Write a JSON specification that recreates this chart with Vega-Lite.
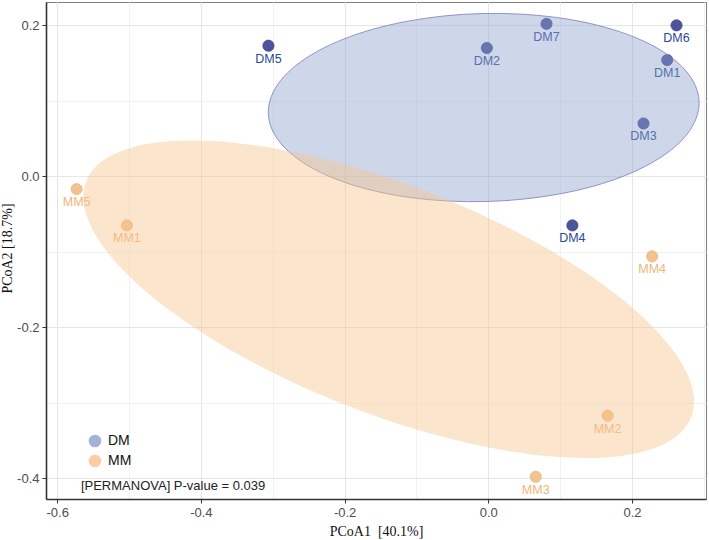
{
  "$schema": "https://vega.github.io/schema/vega-lite/v6.json",
  "width": 660,
  "height": 497,
  "autosize": "none",
  "padding": {"left": 46, "top": 2, "right": 3, "bottom": 41},
  "background": "white",
  "config": {
    "view": {"stroke": "#7f7f7f", "strokeWidth": 1},
    "font": "Liberation Sans"
  },
  "datasets": {
    "pts": [
      {"name": "DM1", "group": "DM", "x": 0.249, "y": 0.154},
      {"name": "DM2", "group": "DM", "x": -0.002, "y": 0.170},
      {"name": "DM3", "group": "DM", "x": 0.216, "y": 0.070},
      {"name": "DM4", "group": "DM", "x": 0.117, "y": -0.065},
      {"name": "DM5", "group": "DM", "x": -0.306, "y": 0.173},
      {"name": "DM6", "group": "DM", "x": 0.262, "y": 0.200},
      {"name": "DM7", "group": "DM", "x": 0.081, "y": 0.202},
      {"name": "MM1", "group": "MM", "x": -0.503, "y": -0.065},
      {"name": "MM2", "group": "MM", "x": 0.166, "y": -0.317},
      {"name": "MM3", "group": "MM", "x": 0.066, "y": -0.398},
      {"name": "MM4", "group": "MM", "x": 0.228, "y": -0.106},
      {"name": "MM5", "group": "MM", "x": -0.573, "y": -0.017}
    ],
    "ell": [
      {"group": "DM", "i": 1, "x": 0.2934, "y": 0.0986},
      {"group": "DM", "i": 2, "x": 0.2882, "y": 0.1201},
      {"group": "DM", "i": 3, "x": 0.2741, "y": 0.1407},
      {"group": "DM", "i": 4, "x": 0.2515, "y": 0.1598},
      {"group": "DM", "i": 5, "x": 0.2210, "y": 0.1769},
      {"group": "DM", "i": 6, "x": 0.1837, "y": 0.1913},
      {"group": "DM", "i": 7, "x": 0.1405, "y": 0.2027},
      {"group": "DM", "i": 8, "x": 0.0929, "y": 0.2107},
      {"group": "DM", "i": 9, "x": 0.0423, "y": 0.2150},
      {"group": "DM", "i": 10, "x": -0.0098, "y": 0.2156},
      {"group": "DM", "i": 11, "x": -0.0618, "y": 0.2124},
      {"group": "DM", "i": 12, "x": -0.1121, "y": 0.2055},
      {"group": "DM", "i": 13, "x": -0.1593, "y": 0.1952},
      {"group": "DM", "i": 14, "x": -0.2017, "y": 0.1817},
      {"group": "DM", "i": 15, "x": -0.2382, "y": 0.1654},
      {"group": "DM", "i": 16, "x": -0.2677, "y": 0.1469},
      {"group": "DM", "i": 17, "x": -0.2893, "y": 0.1267},
      {"group": "DM", "i": 18, "x": -0.3022, "y": 0.1053},
      {"group": "DM", "i": 19, "x": -0.3062, "y": 0.0836},
      {"group": "DM", "i": 20, "x": -0.3010, "y": 0.0621},
      {"group": "DM", "i": 21, "x": -0.2869, "y": 0.0415},
      {"group": "DM", "i": 22, "x": -0.2643, "y": 0.0224},
      {"group": "DM", "i": 23, "x": -0.2338, "y": 0.0053},
      {"group": "DM", "i": 24, "x": -0.1965, "y": -0.0091},
      {"group": "DM", "i": 25, "x": -0.1533, "y": -0.0205},
      {"group": "DM", "i": 26, "x": -0.1057, "y": -0.0285},
      {"group": "DM", "i": 27, "x": -0.0551, "y": -0.0328},
      {"group": "DM", "i": 28, "x": -0.0030, "y": -0.0334},
      {"group": "DM", "i": 29, "x": 0.0490, "y": -0.0302},
      {"group": "DM", "i": 30, "x": 0.0993, "y": -0.0233},
      {"group": "DM", "i": 31, "x": 0.1465, "y": -0.0130},
      {"group": "DM", "i": 32, "x": 0.1889, "y": 0.0005},
      {"group": "DM", "i": 33, "x": 0.2254, "y": 0.0168},
      {"group": "DM", "i": 34, "x": 0.2549, "y": 0.0353},
      {"group": "DM", "i": 35, "x": 0.2765, "y": 0.0556},
      {"group": "DM", "i": 36, "x": 0.2894, "y": 0.0769},
      {"group": "MM", "i": 1, "x": 0.2864, "y": -0.2984},
      {"group": "MM", "i": 2, "x": 0.2799, "y": -0.2684},
      {"group": "MM", "i": 3, "x": 0.2608, "y": -0.2352},
      {"group": "MM", "i": 4, "x": 0.2294, "y": -0.1998},
      {"group": "MM", "i": 5, "x": 0.1869, "y": -0.1633},
      {"group": "MM", "i": 6, "x": 0.1346, "y": -0.1268},
      {"group": "MM", "i": 7, "x": 0.0739, "y": -0.0913},
      {"group": "MM", "i": 8, "x": 0.0067, "y": -0.0581},
      {"group": "MM", "i": 9, "x": -0.0648, "y": -0.0280},
      {"group": "MM", "i": 10, "x": -0.1386, "y": -0.0020},
      {"group": "MM", "i": 11, "x": -0.2124, "y": 0.0191},
      {"group": "MM", "i": 12, "x": -0.2840, "y": 0.0347},
      {"group": "MM", "i": 13, "x": -0.3511, "y": 0.0443},
      {"group": "MM", "i": 14, "x": -0.4118, "y": 0.0475},
      {"group": "MM", "i": 15, "x": -0.4642, "y": 0.0444},
      {"group": "MM", "i": 16, "x": -0.5067, "y": 0.0350},
      {"group": "MM", "i": 17, "x": -0.5380, "y": 0.0196},
      {"group": "MM", "i": 18, "x": -0.5572, "y": -0.0014},
      {"group": "MM", "i": 19, "x": -0.5636, "y": -0.0272},
      {"group": "MM", "i": 20, "x": -0.5572, "y": -0.0572},
      {"group": "MM", "i": 21, "x": -0.5380, "y": -0.0904},
      {"group": "MM", "i": 22, "x": -0.5067, "y": -0.1258},
      {"group": "MM", "i": 23, "x": -0.4642, "y": -0.1623},
      {"group": "MM", "i": 24, "x": -0.4118, "y": -0.1988},
      {"group": "MM", "i": 25, "x": -0.3511, "y": -0.2342},
      {"group": "MM", "i": 26, "x": -0.2840, "y": -0.2675},
      {"group": "MM", "i": 27, "x": -0.2124, "y": -0.2976},
      {"group": "MM", "i": 28, "x": -0.1386, "y": -0.3236},
      {"group": "MM", "i": 29, "x": -0.0648, "y": -0.3447},
      {"group": "MM", "i": 30, "x": 0.0067, "y": -0.3602},
      {"group": "MM", "i": 31, "x": 0.0739, "y": -0.3698},
      {"group": "MM", "i": 32, "x": 0.1346, "y": -0.3731},
      {"group": "MM", "i": 33, "x": 0.1869, "y": -0.3700},
      {"group": "MM", "i": 34, "x": 0.2294, "y": -0.3606},
      {"group": "MM", "i": 35, "x": 0.2608, "y": -0.3452},
      {"group": "MM", "i": 36, "x": 0.2799, "y": -0.3242}
    ],
    "note": [
      {"label": "[PERMANOVA] P-value = 0.039", "x": -0.567, "y": -0.41}
    ]
  },
  "encoding": {
    "x": {
      "field": "x", "type": "quantitative",
      "scale": {"domain": [-0.6156, 0.303], "nice": false, "zero": false},
      "axis": {
        "title": "PCoA1\u00a0\u00a0[40.1%]",
        "titleFont": "Liberation Serif", "titleFontSize": 14, "titleFontWeight": "normal", "titleColor": "#111111", "titlePadding": 5,
        "values": [-0.6, -0.5, -0.4, -0.3, -0.2, -0.1, 0, 0.1, 0.2, 0.3],
        "labelExpr": "abs(round(datum.value*10)) % 2 == 1 ? '' : (datum.value < -0.001 ? '-' : '') + format(abs(datum.value), '.1f')",
        "labelFontSize": 13, "labelColor": "#4d4d4d", "labelPadding": 3,
        "domainColor": "#333333", "domainWidth": 1.6,
        "tickColor": "#333333", "tickSize": 4,
        "tickOpacity": {"condition": {"test": "abs(round(datum.value*10)) % 2 == 1", "value": 0}, "value": 1},
        "grid": true,
        "gridColor": {"condition": {"test": "abs(round(datum.value*10)) % 2 == 1", "value": "#f2f2f2"}, "value": "#e6e6e6"},
        "gridWidth": 1
      }
    },
    "y": {
      "field": "y", "type": "quantitative",
      "scale": {"domain": [-0.4274, 0.2309], "nice": false, "zero": false},
      "axis": {
        "title": "PCoA2 [18.7%]",
        "titleFont": "Liberation Serif", "titleFontSize": 14, "titleFontWeight": "normal", "titleColor": "#111111",
        "titleX": -32, "titleY": 246,
        "values": [-0.4, -0.3, -0.2, -0.1, 0, 0.1, 0.2],
        "labelExpr": "abs(round(datum.value*10)) % 2 == 1 ? '' : (datum.value < -0.001 ? '-' : '') + format(abs(datum.value), '.1f')",
        "labelFontSize": 13, "labelColor": "#4d4d4d", "labelPadding": 3,
        "domainColor": "#333333", "domainWidth": 1.6,
        "tickColor": "#333333", "tickSize": 4,
        "tickOpacity": {"condition": {"test": "abs(round(datum.value*10)) % 2 == 1", "value": 0}, "value": 1},
        "grid": true,
        "gridColor": {"condition": {"test": "abs(round(datum.value*10)) % 2 == 1", "value": "#f2f2f2"}, "value": "#e6e6e6"},
        "gridWidth": 1
      }
    }
  },
  "layer": [
    {
      "data": {"name": "pts"},
      "mark": {"type": "circle", "size": 125, "opacity": 1, "strokeWidth": 0.8},
      "encoding": {
        "color": {"condition": {"test": "datum.group == 'DM'", "value": "#4f539c"}, "value": "#f2c290"},
        "stroke": {"condition": {"test": "datum.group == 'DM'", "value": "#3f4288"}, "value": "#eab47e"}
      }
    },
    {
      "data": {"name": "pts"},
      "mark": {"type": "text", "dy": 13, "fontSize": 12.5, "baseline": "middle", "align": "center"},
      "encoding": {
        "text": {"field": "name"},
        "color": {"condition": {"test": "datum.group == 'DM'", "value": "#2a4898"}, "value": "#efb57c"}
      }
    },
    {
      "data": {"name": "ell"},
      "mark": {"type": "line", "interpolate": "cardinal-closed", "fillOpacity": 0.43, "strokeWidth": 0.8},
      "encoding": {
        "order": {"field": "i", "type": "quantitative"},
        "fill": {
          "field": "group", "type": "nominal",
          "scale": {"domain": ["DM", "MM"], "range": ["#8da0cb", "#f9c38c"]},
          "legend": {
            "title": null, "orient": "none", "legendX": 42, "legendY": 432,
            "symbolType": "circle", "symbolSize": 160, "labelFontSize": 14, "labelColor": "#111111",
            "rowPadding": 2, "padding": 0, "labelOffset": 6,
            "symbolStrokeWidth": 1, "symbolOpacity": 0.8,
            "encode": {
              "symbols": {
                "enter": {
                  "stroke": [{"test": "datum.value == 'DM'", "value": "#5563ad"}, {"value": "transparent"}]
                }
              }
            }
          }
        },
        "stroke": {"condition": {"test": "datum.group == 'DM'", "value": "#7c7cbf"}, "value": "transparent"}
      }
    },
    {
      "data": {"name": "note"},
      "mark": {"type": "text", "align": "left", "baseline": "middle", "fontSize": 13, "color": "#222222"},
      "encoding": {"text": {"field": "label"}}
    }
  ]
}
